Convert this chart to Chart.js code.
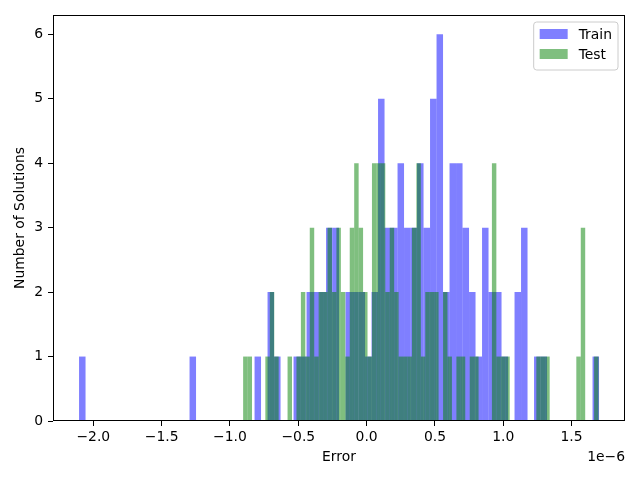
<!DOCTYPE html>
<html>
<head>
<meta charset="utf-8">
<script src="https://cdn.jsdelivr.net/npm/chart.js@4/dist/chart.umd.min.js"></script>
<style>
  html, body { margin: 0; padding: 0; background: #fff; }
  #wrap { width: 640px; height: 480px; }
</style>
</head>
<body>
<div id="wrap"><canvas id="error-hist"></canvas></div>
<script>
// histogram counts, 80 bins each
const trainCounts = [
  1, 0, 0, 0, 0, 0, 0, 0, 0, 0,
  0, 0, 0, 0, 0, 0, 0, 1, 0, 0,
  0, 0, 0, 0, 0, 0, 0, 1, 0, 2,
  1, 0, 0, 1, 1, 2, 2, 2, 3, 3,
  0, 2, 2, 2, 1, 2, 5, 3, 3, 4,
  3, 3, 4, 3, 5, 6, 2, 4, 4, 3,
  2, 1, 3, 2, 2, 1, 0, 2, 3, 0,
  1, 1, 0, 0, 0, 0, 0, 0, 0, 1,
];
const testCounts = [
  1, 1, 0, 0, 0, 1, 2, 1, 0, 0,
  1, 0, 1, 2, 1, 3, 1, 2, 2, 3,
  2, 3, 2, 1, 3, 4, 3, 2, 1, 4,
  4, 4, 2, 3, 2, 1, 1, 1, 3, 4,
  1, 2, 2, 2, 0, 2, 1, 0, 1, 1,
  0, 1, 1, 0, 0, 0, 4, 1, 1, 1,
  0, 0, 0, 0, 0, 0, 1, 1, 1, 0,
  0, 0, 0, 0, 0, 1, 3, 0, 0, 1,
];
// bin ranges (units of 1e-6)
const trainRange = [-2.1044, 1.701];
const testRange = [-0.9036, 1.6973];
const seriesLabels = ["Train", "Test"];
const xTicks = [-2.0, -1.5, -1.0, -0.5, 0.0, 0.5, 1.0, 1.5];
const yTicks = [0, 1, 2, 3, 4, 5, 6];
const xLimits = [-2.295, 1.891];
const yLimits = [0, 6.3];
const xOffsetLabel = "1e\u22126";

const FONT = "'DejaVu Sans', sans-serif";
const FSIZE = 13.9;

Chart.defaults.font.family = FONT;
Chart.defaults.font.size = FSIZE;
Chart.defaults.color = "#000";

function binPoints(counts, range) {
  const w = (range[1] - range[0]) / counts.length;
  return counts.map((c, i) => ({ x: range[0] + (i + 0.5) * w, y: c }));
}

// frame, offset text and matplotlib-like legend
const extras = {
  id: "extras",
  afterDraw(chart) {
    const { ctx, chartArea } = chart;
    ctx.save();
    ctx.strokeStyle = "#000";
    ctx.lineWidth = 1;
    ctx.strokeRect(Math.round(chartArea.left) + 0.5, Math.round(chartArea.top) + 0.5,
      Math.round(chartArea.right - chartArea.left) - 1, Math.round(chartArea.bottom - chartArea.top) - 1);

    ctx.font = FSIZE + "px " + FONT;
    ctx.fillStyle = "#000";
    ctx.textAlign = "right";
    ctx.textBaseline = "middle";
    ctx.fillText(xOffsetLabel, chartArea.right, chartArea.bottom + 36);

    const ds = chart.data.datasets;
    const textW = Math.max(...ds.map(d => ctx.measureText(d.label).width));
    const w = 6 + 28 + 11 + textW + 6;
    const h = 48;
    const x0 = chartArea.right - 7 - w;
    const y0 = chartArea.top + 7;
    const r = 3;
    ctx.beginPath();
    ctx.moveTo(x0 + r, y0);
    ctx.lineTo(x0 + w - r, y0);
    ctx.arcTo(x0 + w, y0, x0 + w, y0 + r, r);
    ctx.lineTo(x0 + w, y0 + h - r);
    ctx.arcTo(x0 + w, y0 + h, x0 + w - r, y0 + h, r);
    ctx.lineTo(x0 + r, y0 + h);
    ctx.arcTo(x0, y0 + h, x0, y0 + h - r, r);
    ctx.lineTo(x0, y0 + r);
    ctx.arcTo(x0, y0, x0 + r, y0, r);
    ctx.closePath();
    ctx.fillStyle = "rgba(255,255,255,0.8)";
    ctx.fill();
    ctx.strokeStyle = "#cccccc";
    ctx.stroke();

    ctx.textAlign = "left";
    ds.forEach((d, i) => {
      const cy = y0 + 12 + i * 20;
      ctx.fillStyle = d.backgroundColor;
      ctx.fillRect(x0 + 6, cy - 5, 28, 10);
      ctx.fillStyle = "#000";
      ctx.fillText(d.label, x0 + 45, cy + 1);
    });
    ctx.restore();
  },
};

const xScaleBase = {
  type: "linear",
  min: xLimits[0],
  max: xLimits[1],
  offset: false,
};

new Chart(document.getElementById("error-hist"), {
  type: "bar",
  data: {
    datasets: [
      {
        label: seriesLabels[0],
        data: binPoints(trainCounts, trainRange),
        backgroundColor: "rgba(0,0,255,0.5)",
        xAxisID: "x",
        order: 2,
      },
      {
        label: seriesLabels[1],
        data: binPoints(testCounts, testRange),
        backgroundColor: "rgba(0,128,0,0.5)",
        xAxisID: "x2",
        order: 1,
      },
    ],
  },
  options: {
    responsive: true,
    maintainAspectRatio: false,
    animation: false,
    layout: { padding: { left: 0, right: 15, top: 15, bottom: 0 } },
    datasets: {
      bar: {
        grouped: false,
        barPercentage: 1,
        categoryPercentage: 1,
        borderWidth: 0,
        inflateAmount: 0,
      },
    },
    plugins: {
      legend: { display: false },
      tooltip: { enabled: false },
    },
    scales: {
      x: {
        ...xScaleBase,
        afterBuildTicks: (s) => { s.ticks = xTicks.map(v => ({ value: v })); },
        afterFit: (s) => { s.height = 59; },
        ticks: {
          padding: 3,
          maxRotation: 0,
          callback: (v) => Number(v).toFixed(1).replace("-", "\u2212"),
        },
        grid: { offset: false, drawOnChartArea: false, drawTicks: true, tickLength: 5, color: "#000", tickColor: "#000" },
        border: { display: false },
        title: { display: true, text: "Error", padding: { top: 0, bottom: 14.7 } },
      },
      x2: {
        ...xScaleBase,
        display: false,
        grid: { offset: false },
      },
      y: {
        min: yLimits[0],
        max: yLimits[1],
        afterBuildTicks: (s) => { s.ticks = yTicks.map(v => ({ value: v })); },
        afterFit: (s) => { s.width = 53; },
        ticks: { padding: 5 },
        grid: { drawOnChartArea: false, drawTicks: true, tickLength: 5, color: "#000", tickColor: "#000" },
        border: { display: false },
        title: { display: true, text: "Number of Solutions", padding: { top: 12.5, bottom: 0 } },
      },
    },
  },
  plugins: [extras],
});
</script>
</body>
</html>
